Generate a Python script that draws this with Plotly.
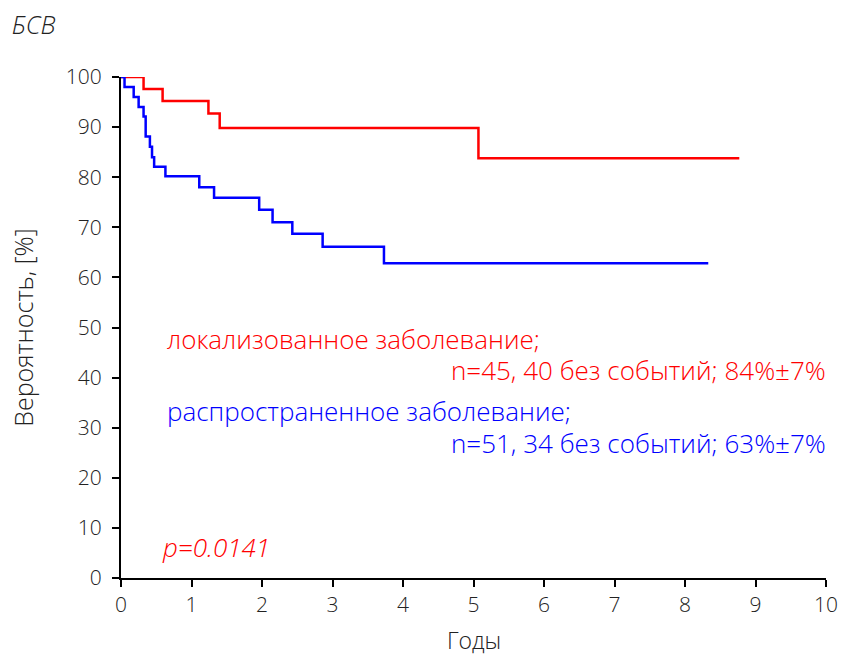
import plotly.graph_objects as go

# Kaplan-Meier steps (time in years, survival %)
red_t = [0, 0.32, 0.59, 1.24, 1.40, 5.07, 8.77]
red_s = [100, 97.6, 95.2, 92.7, 89.8, 83.8, 83.8]

blue_t = [0, 0.05, 0.18, 0.25, 0.32, 0.35, 0.41, 0.44, 0.47, 0.63, 1.11, 1.32,
          1.96, 2.15, 2.43, 2.86, 3.73, 8.33]
blue_s = [100, 98.0, 96.0, 94.0, 92.1, 88.1, 86.1, 84.0, 82.1, 80.2, 78.0, 75.9,
          73.5, 71.0, 68.7, 66.1, 62.8, 62.8]

x_ticks = list(range(0, 11))
y_ticks = list(range(0, 101, 10))

FONT = "Open Sans"
RED = "#ff0000"
BLUE = "#0000ff"
TXT = "#222222"

fig = go.Figure()
fig.add_trace(go.Scatter(x=red_t, y=red_s, mode="lines", line=dict(color=RED, width=2.5, shape="hv"),
                         showlegend=False, hoverinfo="skip"))
fig.add_trace(go.Scatter(x=blue_t, y=blue_s, mode="lines", line=dict(color=BLUE, width=2.5, shape="hv"),
                         showlegend=False, hoverinfo="skip"))

annots = [
    dict(x=0.62, y=47.7, text="локализованное заболевание;", xanchor="left", color=RED, italic=False),
    dict(x=10.0, y=41.5, text="n=45, 40 без событий; 84%±7%", xanchor="right", color=RED, italic=False),
    dict(x=0.62, y=33.3, text="распространенное заболевание;", xanchor="left", color=BLUE, italic=False),
    dict(x=10.0, y=26.9, text="n=51, 34 без событий; 63%±7%", xanchor="right", color=BLUE, italic=False),
    dict(x=0.56, y=6.1, text="p=0.0141", xanchor="left", color=RED, italic=True),
]
for a in annots:
    fig.add_annotation(x=a["x"], y=a["y"], xref="x", yref="y", text=a["text"],
                       xanchor=a["xanchor"], yanchor="middle", showarrow=False,
                       xshift=2 if a["xanchor"] == "right" else 0,
                       font=dict(family=FONT, size=26, color=a["color"], weight=300,
                                 style="italic" if a["italic"] else "normal"))

# x-axis title placed as a paper annotation below the axis
fig.add_annotation(x=0.5, y=-0.123, xref="paper", yref="paper", text="Годы",
                   xanchor="center", yanchor="middle", showarrow=False,
                   font=dict(family=FONT, size=23, color=TXT, weight=300))

fig.update_layout(
    width=842, height=654,
    margin=dict(l=121, r=16, t=77, b=76),
    paper_bgcolor="white", plot_bgcolor="white",
    font=dict(family=FONT, color=TXT),
    title=dict(text="БСВ", x=0.014, xref="container", xanchor="left",
               y=0.962, yref="container", yanchor="middle",
               font=dict(family=FONT, size=25, color=TXT, style="italic", weight=300)),
    xaxis=dict(range=[0, 10], tickvals=x_ticks, ticktext=[str(v) for v in x_ticks],
               automargin=False,
               showgrid=False, zeroline=False, showline=True, linecolor="black", linewidth=2,
               ticks="outside", ticklen=7, tickwidth=2, tickcolor="black",
               tickfont=dict(family=FONT, size=21, color=TXT, weight=300)),
    yaxis=dict(range=[0, 100], tickvals=y_ticks, ticktext=[str(v) for v in y_ticks],
               automargin=False, ticklabelstandoff=6,
               showgrid=False, zeroline=False, showline=True, linecolor="black", linewidth=2,
               ticks="outside", ticklen=7, tickwidth=2, tickcolor="black",
               tickfont=dict(family=FONT, size=21, color=TXT, weight=300),
               title=dict(text="Вероятность, [%]", font=dict(family=FONT, size=25, color=TXT, weight=300), standoff=25)),
)

fig.write_html("out.html")
